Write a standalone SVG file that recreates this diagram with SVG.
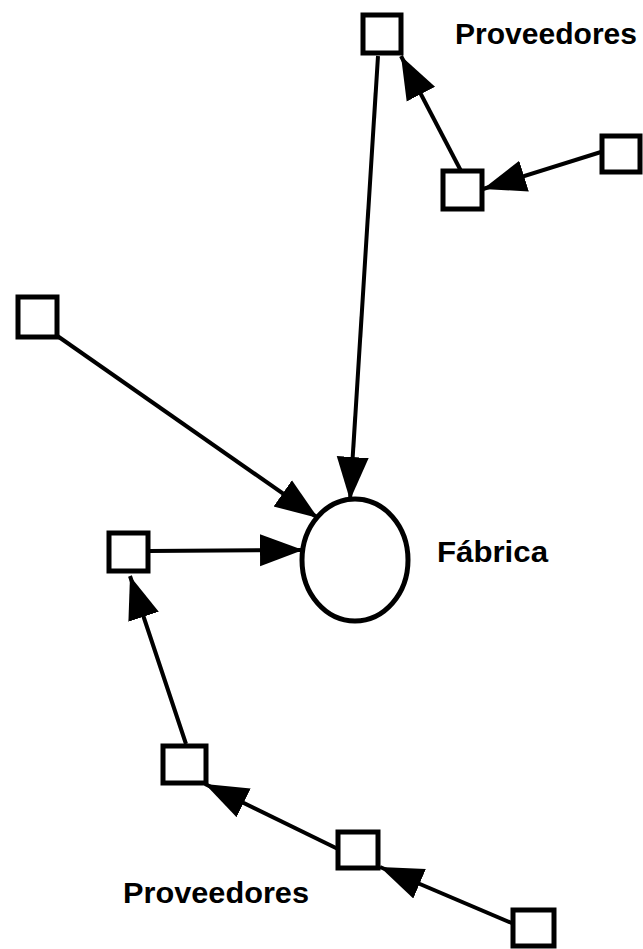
<svg xmlns="http://www.w3.org/2000/svg" width="643" height="949" viewBox="0 0 643 949">
  <style>
    .box { fill: #fff; stroke: #000; stroke-width: 5; }
    .hub { fill: #fff; stroke: #000; stroke-width: 5; }
    .link { fill: none; stroke: #000; stroke-width: 4; marker-end: url(#head); }
    .label { font-family: "Liberation Sans", Arial, sans-serif; font-weight: bold; font-size: 30px; fill: #000; }
  </style>
  <defs>
    <marker id="head" markerUnits="userSpaceOnUse" markerWidth="46" markerHeight="36" refX="43" refY="18" orient="auto">
      <path d="M0,2 L43,18 L0,34 Z" fill="#000"/>
    </marker>
  </defs>
  <rect width="643" height="949" fill="#fff"/>

  <g id="connectors">
    <line class="link" x1="378" y1="56" x2="350" y2="500"/>
    <line class="link" x1="56" y1="335" x2="318" y2="518"/>
    <line class="link" x1="149" y1="551" x2="303" y2="550"/>
    <line class="link" x1="461" y1="171" x2="401" y2="56"/>
    <line class="link" x1="601" y1="152" x2="483" y2="189"/>
    <line class="link" x1="186" y1="744" x2="130" y2="576"/>
    <line class="link" x1="338" y1="849" x2="205" y2="784"/>
    <line class="link" x1="514" y1="924" x2="380" y2="867"/>
  </g>

  <g id="fabrica">
    <ellipse class="hub" cx="355" cy="560" rx="53" ry="61"/>
    <text class="label" x="437" y="562" textLength="111" lengthAdjust="spacingAndGlyphs">Fábrica</text>
  </g>
  <g id="proveedor-top-1"><rect class="box" x="363" y="15" width="38" height="38"/></g>
  <g id="proveedor-top-2"><rect class="box" x="443" y="171" width="39" height="38"/></g>
  <g id="proveedor-top-3"><rect class="box" x="602" y="136" width="38" height="36"/></g>
  <g id="proveedor-left"><rect class="box" x="18" y="297" width="39" height="40"/></g>
  <g id="proveedor-mid"><rect class="box" x="109" y="533" width="39" height="38"/></g>
  <g id="proveedor-bottom-1"><rect class="box" x="163" y="746" width="43" height="37"/></g>
  <g id="proveedor-bottom-2"><rect class="box" x="338" y="832" width="40" height="36"/></g>
  <g id="proveedor-bottom-3"><rect class="box" x="513" y="910" width="41" height="36"/></g>

  <g id="label-top"><text class="label" x="455" y="44" textLength="182" lengthAdjust="spacingAndGlyphs">Proveedores</text></g>
  <g id="label-bottom"><text class="label" x="123" y="903" textLength="186" lengthAdjust="spacingAndGlyphs">Proveedores</text></g>
</svg>
